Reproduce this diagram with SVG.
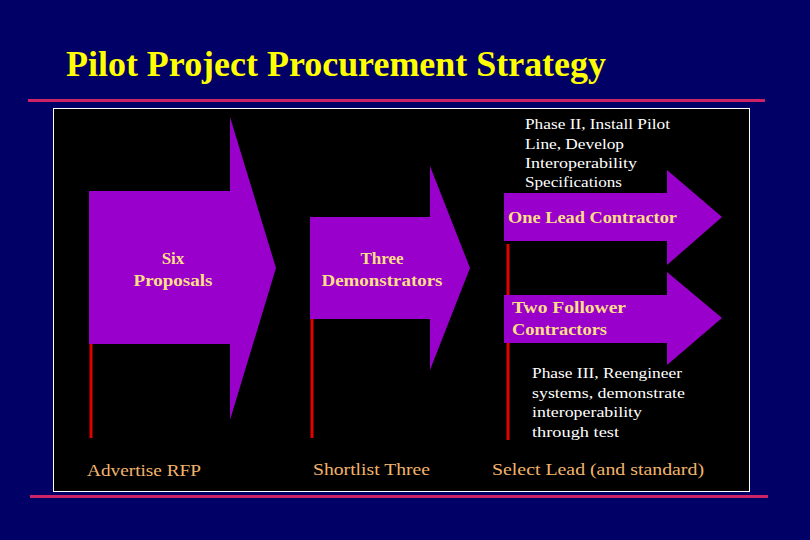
<svg xmlns="http://www.w3.org/2000/svg" width="810" height="540" viewBox="0 0 810 540">
<style>
text{font-family:"Liberation Serif","Times New Roman",Times,serif}
.arrow{fill:#9900cc}
.lbl{font-weight:bold;font-size:17px;fill:#ffdf88}
.note{font-size:15px;fill:#ffffff}
.step{font-size:17px;fill:#f2b46c}
.tick{stroke:#e00000;stroke-width:3}
.title{font-weight:bold;font-size:36px;fill:#ffff00}
</style>
<rect width="810" height="540" fill="#000066"/>
<text class="title" x="66" y="76" textLength="540" lengthAdjust="spacingAndGlyphs">Pilot Project Procurement Strategy</text>
<line x1="28" y1="100.5" x2="765" y2="100.5" stroke="#cc2266" stroke-width="3"/>
<line x1="30" y1="496.5" x2="768" y2="496.5" stroke="#cc2266" stroke-width="3"/>
<rect x="53.5" y="108.5" width="696" height="383" fill="#000000" stroke="#ffffff" stroke-width="1"/>
<g id="ticks">
<line class="tick" x1="91" y1="344" x2="91" y2="438"/>
<line class="tick" x1="312" y1="319" x2="312" y2="438"/>
<line class="tick" x1="508" y1="244" x2="508" y2="440"/>
</g>
<g id="six-proposals">
<polygon class="arrow" points="89,191 230,191 230,117 276,268 230,420 230,344 89,344"/>
<text class="lbl" x="173" y="264" text-anchor="middle">Six</text>
<text class="lbl" x="173" y="286" text-anchor="middle" textLength="79" lengthAdjust="spacingAndGlyphs">Proposals</text>
</g>
<g id="three-demonstrators">
<polygon class="arrow" points="310,217 430,217 430,166 470,268 430,370 430,319 310,319"/>
<text class="lbl" x="382" y="264" text-anchor="middle">Three</text>
<text class="lbl" x="382" y="286" text-anchor="middle" textLength="121" lengthAdjust="spacingAndGlyphs">Demonstrators</text>
</g>
<g id="one-lead">
<polygon class="arrow" points="504,193 667,193 667,170 722,217 667,265 667,241 504,241"/>
<text class="lbl" x="508" y="223" textLength="169" lengthAdjust="spacingAndGlyphs">One Lead Contractor</text>
</g>
<g id="two-follower">
<polygon class="arrow" points="504,295 667,295 667,272 722,318 667,365 667,343 504,343"/>
<text class="lbl" x="512" y="313" textLength="114" lengthAdjust="spacingAndGlyphs">Two Follower</text>
<text class="lbl" x="512" y="335" textLength="95" lengthAdjust="spacingAndGlyphs">Contractors</text>
</g>
<g id="phase2">
<text class="note" x="525" y="129" textLength="145" lengthAdjust="spacingAndGlyphs">Phase II, Install Pilot</text>
<text class="note" x="525" y="149" textLength="99" lengthAdjust="spacingAndGlyphs">Line, Develop</text>
<text class="note" x="525" y="168" textLength="112" lengthAdjust="spacingAndGlyphs">Interoperability</text>
<text class="note" x="525" y="187" textLength="97" lengthAdjust="spacingAndGlyphs">Specifications</text>
</g>
<g id="phase3">
<text class="note" x="532" y="378" textLength="150" lengthAdjust="spacingAndGlyphs">Phase III, Reengineer</text>
<text class="note" x="532" y="398" textLength="153" lengthAdjust="spacingAndGlyphs">systems, demonstrate</text>
<text class="note" x="532" y="417" textLength="110" lengthAdjust="spacingAndGlyphs">interoperability</text>
<text class="note" x="532" y="437" textLength="87" lengthAdjust="spacingAndGlyphs">through test</text>
</g>
<g id="steps">
<text class="step" x="87" y="476" textLength="114" lengthAdjust="spacingAndGlyphs">Advertise RFP</text>
<text class="step" x="313" y="475" textLength="117" lengthAdjust="spacingAndGlyphs">Shortlist Three</text>
<text class="step" x="492" y="475" textLength="212" lengthAdjust="spacingAndGlyphs">Select Lead (and standard)</text>
</g>
</svg>
